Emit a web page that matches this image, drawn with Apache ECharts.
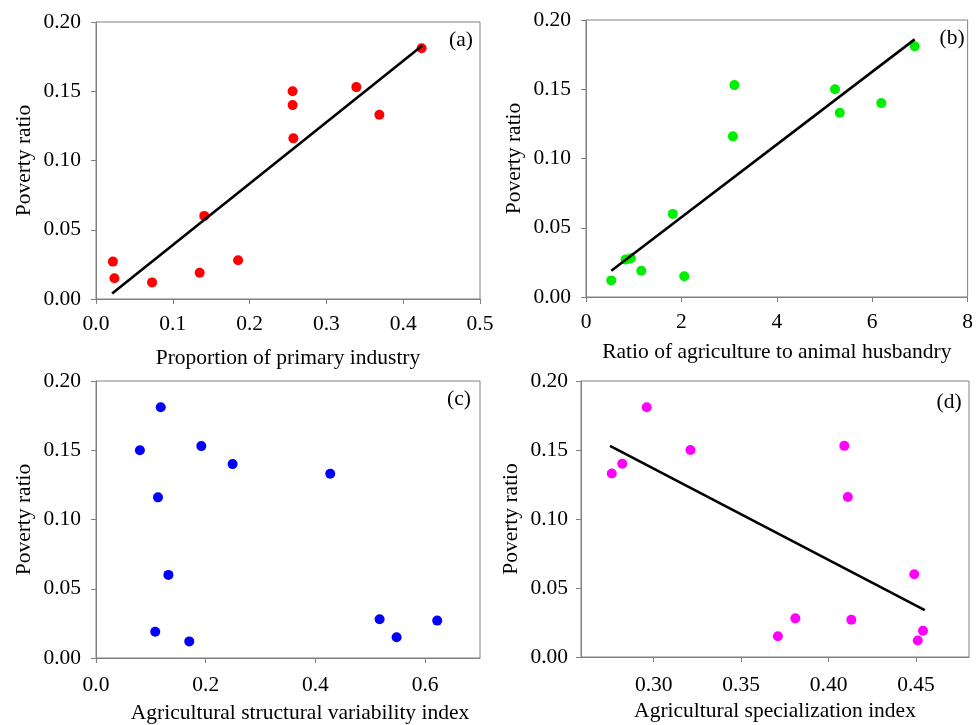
<!DOCTYPE html>
<html>
<head>
<meta charset="utf-8">
<script src="https://cdn.jsdelivr.net/npm/echarts@6/dist/echarts.min.js"></script>
<style>html,body{margin:0;padding:0;background:#fff;}#c{width:976px;height:725px;}</style>
</head>
<body>
<div id="c"></div>
<script>
// Panel (a): Proportion of primary industry vs poverty ratio
const aX = [0.022, 0.024, 0.073, 0.135, 0.141, 0.185, 0.256, 0.256, 0.257, 0.339, 0.369, 0.424];
const aY = [0.027, 0.015, 0.012, 0.019, 0.060, 0.028, 0.150, 0.140, 0.116, 0.153, 0.133, 0.181];
const aFitX = [0.021, 0.425];
const aFitY = [0.004, 0.183];
// Panel (b): Ratio of agriculture to animal husbandry
const bX = [0.53, 0.83, 0.94, 1.16, 1.82, 2.06, 3.08, 3.11, 5.22, 5.32, 6.19, 6.89];
const bY = [0.012, 0.027, 0.028, 0.019, 0.060, 0.015, 0.116, 0.153, 0.150, 0.133, 0.140, 0.181];
const bFitX = [0.53, 6.89];
const bFitY = [0.019, 0.186];
// Panel (c): Agricultural structural variability index
const cX = [0.080, 0.118, 0.113, 0.132, 0.108, 0.170, 0.192, 0.249, 0.427, 0.517, 0.548, 0.622];
const cY = [0.150, 0.181, 0.116, 0.060, 0.019, 0.012, 0.153, 0.140, 0.133, 0.028, 0.015, 0.027];
// Panel (d): Agricultural specialization index
const dX = [0.276, 0.282, 0.296, 0.321, 0.371, 0.381, 0.409, 0.411, 0.413, 0.449, 0.451, 0.454];
const dY = [0.133, 0.140, 0.181, 0.150, 0.015, 0.028, 0.153, 0.116, 0.027, 0.060, 0.012, 0.019];
const dFitX = [0.275, 0.455];
const dFitY = [0.153, 0.034];

const yTitle = 'Poverty ratio';
const xTitles = ['Proportion of primary industry', 'Ratio of agriculture to animal husbandry',
  'Agricultural structural variability index', 'Agricultural specialization index'];
const panelTags = ['(a)', '(b)', '(c)', '(d)'];

const FONT = '"Liberation Serif", "Times New Roman", serif';
const FS = 21.5;
const GRAY = '#808080';

const zip = (xs, ys) => xs.map((x, i) => [x, ys[i]]);

const grids = [
  {left: 96, top: 22, width: 384, height: 277},
  {left: 586, top: 20, width: 385, height: 277},
  {left: 96, top: 381, width: 384, height: 277},
  {left: 581, top: 381, width: 388, height: 276}
];

function xAxisBase(i, extra, labelMargin, nameGap, namePad) {
  return Object.assign({
    type: 'value', gridIndex: i,
    name: xTitles[i], nameLocation: 'middle', nameGap: nameGap,
    nameTextStyle: {fontFamily: FONT, fontSize: FS, color: '#000', padding: namePad || 0},
    axisLine: {show: true, onZero: false, lineStyle: {color: GRAY, width: 1}},
    axisTick: {show: true, inside: false, length: 5, lineStyle: {color: GRAY}},
    splitLine: {show: false},
    axisLabel: {fontFamily: FONT, fontSize: FS, color: '#000', margin: labelMargin}
  }, extra);
}
function yAxisBase(i, labelMargin, nameGap) {
  return {
    type: 'value', gridIndex: i, min: 0, max: 0.2, interval: 0.05,
    name: yTitle, nameLocation: 'middle', nameGap: nameGap,
    nameTextStyle: {fontFamily: FONT, fontSize: FS, color: '#000'},
    axisLine: {show: true, onZero: false, lineStyle: {color: GRAY, width: 1}},
    axisTick: {show: true, inside: false, length: 5, lineStyle: {color: GRAY}},
    splitLine: {show: false},
    axisLabel: {fontFamily: FONT, fontSize: FS, color: '#000', margin: labelMargin,
      formatter: v => v.toFixed(2)}
  };
}

const xAxes = [
  xAxisBase(0, {min: 0, max: 0.5, interval: 0.1}, 14, 48),
  xAxisBase(1, {min: 0, max: 8, interval: 2}, 14, 44),
  xAxisBase(2, {min: 0, max: 0.7, interval: 0.2}, 16, 44, [0, 0, 0, 24]),
  xAxisBase(3, {min: 0.2584, max: 0.4803, minInterval: 0.05, maxInterval: 0.05}, 17, 43)
];
xAxes[0].axisLabel.formatter = v => v.toFixed(1);
xAxes[1].axisLabel.formatter = v => String(v);
xAxes[2].axisLabel.formatter = v => v.toFixed(1);
xAxes[2].axisLabel.showMaxLabel = false;
xAxes[3].axisLabel.formatter = v => v.toFixed(2);
xAxes[3].axisLabel.showMinLabel = false;
xAxes[3].axisLabel.showMaxLabel = false;

const yAxes = [yAxisBase(0, 15, 61), yAxisBase(1, 15, 61), yAxisBase(2, 15, 61), yAxisBase(3, 13, 59)];

function scatter(i, xs, ys, color) {
  return {type: 'scatter', xAxisIndex: i, yAxisIndex: i, data: zip(xs, ys),
    symbol: 'circle', symbolSize: 10, itemStyle: {color: color, opacity: 1}, z: 3, silent: true};
}
function fit(i, xs, ys) {
  return {type: 'line', xAxisIndex: i, yAxisIndex: i, data: zip(xs, ys), showSymbol: false,
    symbol: 'none', lineStyle: {color: '#000', width: 2.6}, z: 4, silent: true};
}

const tagPos = [[461, 40], [952, 38], [459, 399], [949, 402]];

const chart = echarts.init(document.getElementById('c'));
chart.setOption({
  backgroundColor: '#fff',
  animation: false,
  grid: grids.map(g => Object.assign({show: true, borderColor: GRAY, borderWidth: 1, backgroundColor: 'transparent'}, g)),
  xAxis: xAxes,
  yAxis: yAxes,
  series: [
    scatter(0, aX, aY, '#ff0000'), fit(0, aFitX, aFitY),
    scatter(1, bX, bY, '#00ee00'), fit(1, bFitX, bFitY),
    scatter(2, cX, cY, '#0000ff'),
    scatter(3, dX, dY, '#ff00ff'), fit(3, dFitX, dFitY)
  ],
  graphic: panelTags.map((t, i) => ({
    type: 'text', x: tagPos[i][0], y: tagPos[i][1],
    style: {text: t, fontFamily: FONT, fontSize: FS, fill: '#000', align: 'center', verticalAlign: 'middle'}
  }))
});
</script>
</body>
</html>
